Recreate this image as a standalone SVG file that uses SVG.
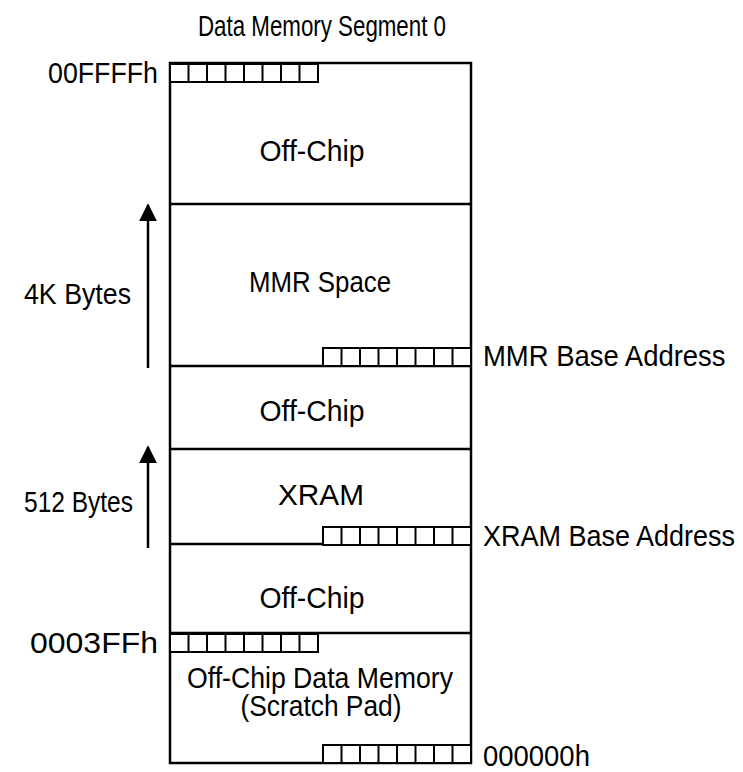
<svg xmlns="http://www.w3.org/2000/svg" width="743" height="772" viewBox="0 0 743 772">
<style>
.t{font-family:"Liberation Sans","Arial",sans-serif;font-size:30px;fill:#000}
.m{text-anchor:middle}
.ln{stroke:#000;stroke-width:2.5;fill:none}
.rg{stroke:#000;stroke-width:2;fill:#fff}
</style>
<defs>
<g id="reg">
<rect class="rg" x="0" y="0" width="148" height="18"/>
<path class="rg" d="M18.5 0V18M37 0V18M55.5 0V18M74 0V18M92.5 0V18M111 0V18M129.5 0V18"/>
</g>
<marker id="ah" viewBox="0 0 10 10" refX="9" refY="5" markerWidth="18" markerHeight="23" markerUnits="userSpaceOnUse" orient="auto">
<path d="M0 0L10 5L0 10z" fill="#000"/>
</marker>
</defs>
<text class="t m" x="322" y="36" textLength="248" lengthAdjust="spacingAndGlyphs">Data Memory Segment 0</text>
<g id="memory">
<rect class="ln" x="170" y="63" width="301" height="700"/>
<path class="ln" d="M170 204H471M170 366H471M170 449H471M170 544H471M170 633H471"/>
</g>
<g id="off-chip-top"><text class="t m" x="312" y="161" textLength="105" lengthAdjust="spacingAndGlyphs">Off-Chip</text></g>
<g id="mmr-space"><text class="t m" x="320" y="292" textLength="142" lengthAdjust="spacingAndGlyphs">MMR Space</text></g>
<g id="off-chip-mid"><text class="t m" x="312" y="421" textLength="105" lengthAdjust="spacingAndGlyphs">Off-Chip</text></g>
<g id="xram"><text class="t m" x="321" y="505" textLength="86" lengthAdjust="spacingAndGlyphs">XRAM</text></g>
<g id="off-chip-low"><text class="t m" x="312" y="608" textLength="105" lengthAdjust="spacingAndGlyphs">Off-Chip</text></g>
<g id="scratch">
<text class="t m" x="320" y="688" textLength="266" lengthAdjust="spacingAndGlyphs">Off-Chip Data Memory</text>
<text class="t m" x="321" y="716" textLength="161" lengthAdjust="spacingAndGlyphs">(Scratch Pad)</text>
</g>
<g id="registers">
<use href="#reg" x="170" y="64"/>
<use href="#reg" x="323" y="348"/>
<use href="#reg" x="323" y="527"/>
<use href="#reg" x="170" y="634"/>
<use href="#reg" x="323" y="745"/>
</g>
<g id="labels">
<text class="t" x="48" y="83" textLength="110" lengthAdjust="spacingAndGlyphs">00FFFFh</text>
<text class="t" transform="translate(483,366) scale(0.915,1)">MMR Base Address</text>
<text class="t" transform="translate(483,546) scale(0.9,1)">XRAM Base Address</text>
<text class="t" x="30" y="653" textLength="128" lengthAdjust="spacingAndGlyphs">0003FFh</text>
<text class="t" transform="translate(483,766) scale(0.916,1)">000000h</text>
<text class="t" x="24" y="304" textLength="107" lengthAdjust="spacingAndGlyphs">4K Bytes</text>
<text class="t" x="24" y="512" textLength="109" lengthAdjust="spacingAndGlyphs">512 Bytes</text>
</g>
<g id="connectors">
<line class="ln" x1="148" y1="368" x2="148" y2="205" marker-end="url(#ah)"/>
<line class="ln" x1="148" y1="548" x2="148" y2="447" marker-end="url(#ah)"/>
</g>
</svg>
